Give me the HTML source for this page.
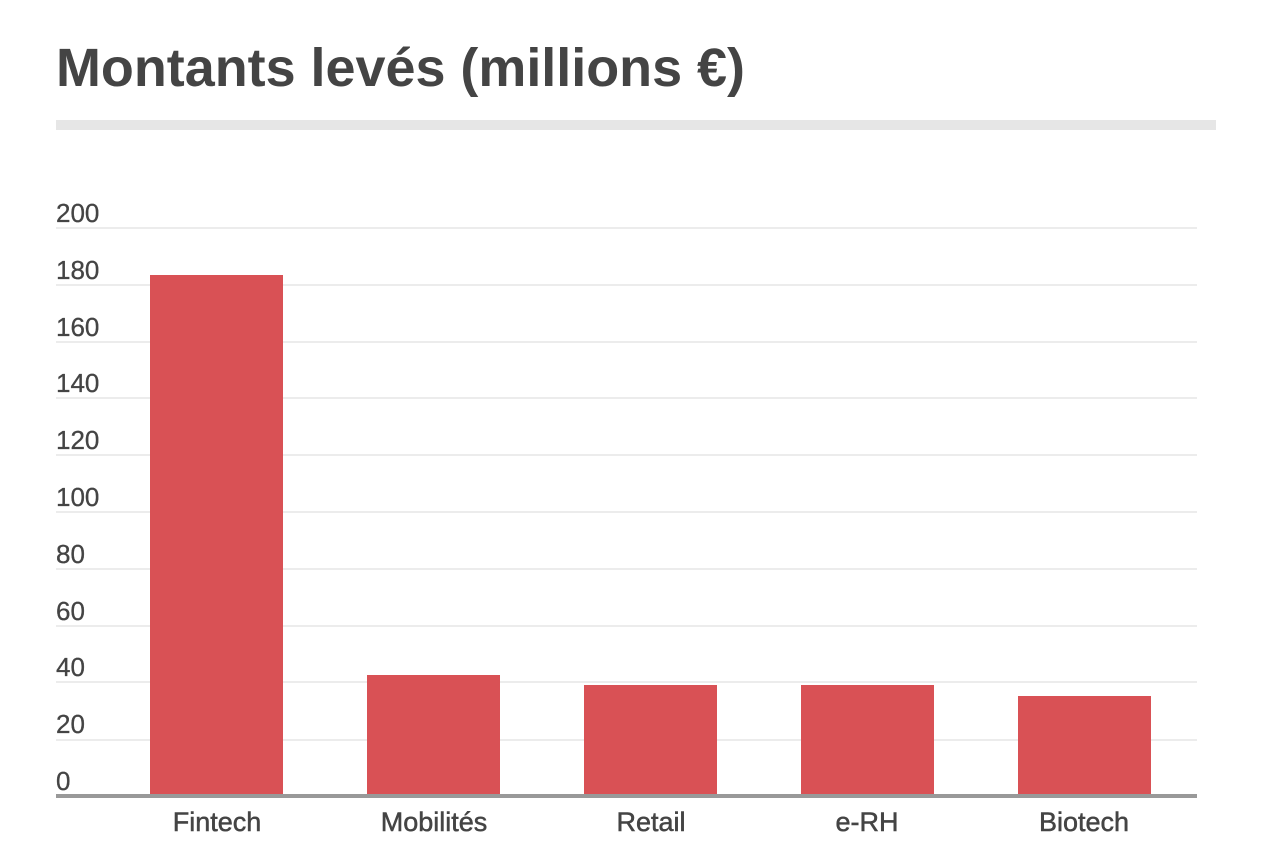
<!DOCTYPE html>
<html><head><meta charset="utf-8"><style>
html,body{margin:0;padding:0;background:#fff;}
svg{display:block}
</style></head><body>
<svg width="1280" height="854" xmlns="http://www.w3.org/2000/svg" font-family="Liberation Sans, sans-serif">
<text x="56" y="86" font-size="54" font-weight="bold" fill="#444" textLength="689" lengthAdjust="spacingAndGlyphs">Montants levés (millions €)</text>
<rect x="56" y="120" width="1160" height="10" fill="#e6e6e6"/>
<g stroke="#e6e6e6" stroke-width="1.5">
<line x1="56" x2="1197" y1="228" y2="228"/>
<line x1="56" x2="1197" y1="285" y2="285"/>
<line x1="56" x2="1197" y1="342" y2="342"/>
<line x1="56" x2="1197" y1="398" y2="398"/>
<line x1="56" x2="1197" y1="455" y2="455"/>
<line x1="56" x2="1197" y1="512" y2="512"/>
<line x1="56" x2="1197" y1="569" y2="569"/>
<line x1="56" x2="1197" y1="626" y2="626"/>
<line x1="56" x2="1197" y1="682" y2="682"/>
<line x1="56" x2="1197" y1="740" y2="740"/>
</g>
<g font-size="26" fill="#444" stroke="#444" stroke-width="0.3">
<text x="56" y="222">200</text>
<text x="56" y="279">180</text>
<text x="56" y="336">160</text>
<text x="56" y="392">140</text>
<text x="56" y="449">120</text>
<text x="56" y="506">100</text>
<text x="56" y="563">80</text>
<text x="56" y="620">60</text>
<text x="56" y="676">40</text>
<text x="56" y="733">20</text>
<text x="56" y="790">0</text>
</g>
<g fill="#d95155">
<rect x="150" y="275" width="133" height="520"/>
<rect x="367" y="675" width="133" height="120"/>
<rect x="584" y="685" width="133" height="110"/>
<rect x="801" y="685" width="133" height="110"/>
<rect x="1018" y="696" width="133" height="99"/>
</g>
<rect x="56" y="794" width="1141" height="4" fill="#999"/>
<g font-size="27" fill="#444" stroke="#444" stroke-width="0.5" text-anchor="middle">
<text x="217" y="831">Fintech</text>
<text x="434" y="831">Mobilités</text>
<text x="651" y="831">Retail</text>
<text x="867" y="831">e-RH</text>
<text x="1084" y="831">Biotech</text>
</g>
</svg>
</body></html>
